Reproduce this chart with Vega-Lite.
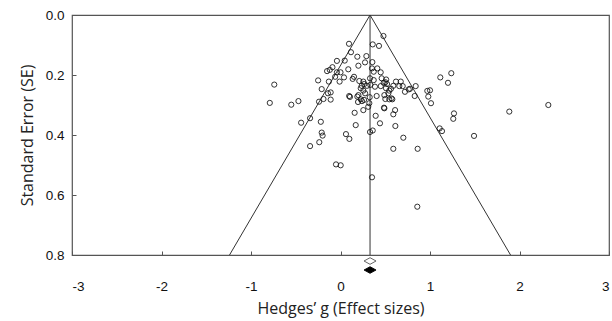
{
  "$schema": "https://vega.github.io/schema/vega-lite/v6.json",
  "autosize": "none",
  "width": 537,
  "height": 240,
  "padding": {"left": 72, "top": 15, "right": 3, "bottom": 66},
  "background": "white",
  "config": {
    "view": {"stroke": "#555", "strokeWidth": 1.2},
    "axis": {
      "grid": false,
      "domainColor": "#555",
      "tickColor": "#555",
      "labelFont": "Liberation Sans",
      "labelFontSize": 13.5,
      "labelColor": "#111",
      "titleFont": "Open Sans",
      "titleFontWeight": "normal",
      "titleFontSize": 16,
      "titleColor": "#222"
    }
  },
  "datasets": {
    "studies": [
      {"g": -0.74, "se": 0.232}, {"g": -0.79, "se": 0.293}, {"g": -0.55, "se": 0.299}, {"g": -0.47, "se": 0.287},
      {"g": -0.44, "se": 0.359}, {"g": -0.34, "se": 0.344}, {"g": -0.22, "se": 0.356}, {"g": -0.21, "se": 0.392},
      {"g": -0.20, "se": 0.402}, {"g": -0.25, "se": 0.218}, {"g": -0.21, "se": 0.247}, {"g": -0.13, "se": 0.222},
      {"g": -0.11, "se": 0.258}, {"g": -0.19, "se": 0.28}, {"g": -0.11, "se": 0.282}, {"g": -0.24, "se": 0.289},
      {"g": -0.15, "se": 0.187}, {"g": -0.12, "se": 0.183}, {"g": -0.09, "se": 0.174}, {"g": -0.04, "se": 0.153},
      {"g": -0.04, "se": 0.191}, {"g": -0.01, "se": 0.222},
      {"g": 0.095, "se": 0.096}, {"g": 0.117, "se": 0.124}, {"g": 0.36, "se": 0.098}, {"g": 0.43, "se": 0.103},
      {"g": 0.48, "se": 0.07}, {"g": 0.188, "se": 0.139}, {"g": 0.289, "se": 0.137}, {"g": 0.274, "se": 0.158},
      {"g": 0.356, "se": 0.157}, {"g": 0.047, "se": 0.152}, {"g": 0.039, "se": 0.208}, {"g": 0.087, "se": 0.181},
      {"g": 0.151, "se": 0.206}, {"g": 0.136, "se": 0.213}, {"g": 0.21, "se": 0.22}, {"g": 0.255, "se": 0.222},
      {"g": 0.266, "se": 0.23}, {"g": 0.237, "se": 0.236}, {"g": 0.296, "se": 0.236}, {"g": 0.333, "se": 0.233},
      {"g": 0.226, "se": 0.244}, {"g": 0.255, "se": 0.252}, {"g": 0.33, "se": 0.211}, {"g": 0.371, "se": 0.217},
      {"g": 0.411, "se": 0.178}, {"g": 0.449, "se": 0.191}, {"g": 0.352, "se": 0.178}, {"g": 0.371, "se": 0.189},
      {"g": 0.483, "se": 0.226}, {"g": 0.508, "se": 0.244}, {"g": 0.564, "se": 0.246}, {"g": 0.545, "se": 0.252},
      {"g": 0.501, "se": 0.224}, {"g": 0.673, "se": 0.222}, {"g": 0.695, "se": 0.237}, {"g": 0.657, "se": 0.237},
      {"g": 0.762, "se": 0.248}, {"g": 0.777, "se": 0.246}, {"g": 0.84, "se": 0.237}, {"g": 0.829, "se": 0.27},
      {"g": 0.97, "se": 0.253}, {"g": 1.0, "se": 0.251}, {"g": 0.981, "se": 0.272}, {"g": 1.011, "se": 0.294},
      {"g": 1.115, "se": 0.208}, {"g": 1.238, "se": 0.194}, {"g": 1.201, "se": 0.226}, {"g": 0.188, "se": 0.272},
      {"g": 0.106, "se": 0.273}, {"g": 0.226, "se": 0.281}, {"g": 0.263, "se": 0.283}, {"g": 0.196, "se": 0.29},
      {"g": 0.326, "se": 0.274}, {"g": 0.322, "se": 0.294}, {"g": 0.404, "se": 0.27}, {"g": 0.501, "se": 0.28},
      {"g": 0.545, "se": 0.281}, {"g": 0.579, "se": 0.281}, {"g": 0.486, "se": 0.309}, {"g": 0.59, "se": 0.331},
      {"g": 0.441, "se": 0.361}, {"g": 0.613, "se": 0.37}, {"g": 0.393, "se": 0.336}, {"g": 0.255, "se": 0.317},
      {"g": 0.158, "se": 0.326}, {"g": 0.17, "se": 0.367}, {"g": 0.061, "se": 0.397}, {"g": 0.099, "se": 0.413},
      {"g": 0.33, "se": 0.39}, {"g": 0.36, "se": 0.385}, {"g": 0.702, "se": 0.409}, {"g": 1.108, "se": 0.378},
      {"g": 1.134, "se": 0.387}, {"g": 1.268, "se": 0.328}, {"g": 1.26, "se": 0.346}, {"g": 1.492, "se": 0.403},
      {"g": 1.886, "se": 0.322}, {"g": 2.322, "se": 0.30}, {"g": 0.59, "se": 0.446}, {"g": 0.862, "se": 0.446},
      {"g": -0.05, "se": 0.498}, {"g": 0.002, "se": 0.501}, {"g": 0.352, "se": 0.541}, {"g": 0.858, "se": 0.639},
      {"g": -0.34, "se": 0.437}, {"g": -0.237, "se": 0.424}, {"g": 0.72, "se": 0.256},
      {"g": 0.2, "se": 0.169}, {"g": 0.0, "se": 0.191}, {"g": -0.06, "se": 0.206}, {"g": 0.46, "se": 0.211},
      {"g": 0.51, "se": 0.215}, {"g": 0.52, "se": 0.23}, {"g": 0.45, "se": 0.237}, {"g": 0.59, "se": 0.236},
      {"g": 0.62, "se": 0.222}, {"g": 0.385, "se": 0.239}, {"g": 0.535, "se": 0.261}, {"g": 0.57, "se": 0.278},
      {"g": 0.49, "se": 0.267}, {"g": 0.2, "se": 0.267}, {"g": 0.24, "se": 0.287}, {"g": 0.275, "se": 0.261},
      {"g": 0.097, "se": 0.27}, {"g": -0.14, "se": 0.261}, {"g": 0.31, "se": 0.306}, {"g": 0.49, "se": 0.311},
      {"g": 0.61, "se": 0.317}
    ],
    "funnel": [
      {"line": "left", "g": -1.24, "se": 0.8},
      {"line": "left", "g": 0.33, "se": 0.0},
      {"line": "right", "g": 0.33, "se": 0.0},
      {"line": "right", "g": 1.9, "se": 0.8},
      {"line": "mean", "g": 0.33, "se": 0.0},
      {"line": "mean", "g": 0.33, "se": 0.8}
    ],
    "summary": [
      {"kind": "observed", "g": 0.33, "se": 0.82},
      {"kind": "adjusted", "g": 0.33, "se": 0.85}
    ]
  },
  "layer": [
    {
      "data": {"name": "funnel"},
      "mark": {"type": "line", "color": "#333", "strokeWidth": 1},
      "encoding": {
        "x": {"field": "g", "type": "quantitative", "scale": {"domain": [-3, 3], "nice": false, "zero": false},
              "axis": {"title": "Hedges’ g (Effect sizes)", "values": [-3, -2, -1, 0, 1, 2, 3], "labelExpr": "'' + datum.value", "tickSize": -4, "labelPadding": 28, "titlePadding": 8, "domain": false}},
        "y": {"field": "se", "type": "quantitative", "scale": {"domain": [0, 0.8], "reverse": true, "nice": false},
              "axis": {"title": "Standard Error (SE)", "values": [0, 0.2, 0.4, 0.6, 0.8], "format": ".1f", "tickSize": -4, "labelPadding": 12, "titlePadding": 10, "domain": false}},
        "detail": {"field": "line"}
      }
    },
    {
      "data": {"name": "studies"},
      "mark": {"type": "point", "shape": "circle", "filled": false, "color": "#111", "size": 27, "strokeWidth": 0.85, "opacity": 1},
      "encoding": {
        "x": {"field": "g", "type": "quantitative"},
        "y": {"field": "se", "type": "quantitative"}
      }
    },
    {
      "data": {"name": "summary"},
      "mark": {"type": "point", "shape": "M-1,0L0,-0.55L1,0L0,0.55Z", "size": 144, "strokeWidth": 0.9, "clip": false, "opacity": 1},
      "encoding": {
        "x": {"field": "g", "type": "quantitative"},
        "y": {"field": "se", "type": "quantitative"},
        "fill": {"field": "kind", "type": "nominal", "scale": {"domain": ["observed", "adjusted"], "range": ["white", "black"]}, "legend": null},
        "stroke": {"field": "kind", "type": "nominal", "scale": {"domain": ["observed", "adjusted"], "range": ["#555", "black"]}, "legend": null}
      }
    }
  ]
}
